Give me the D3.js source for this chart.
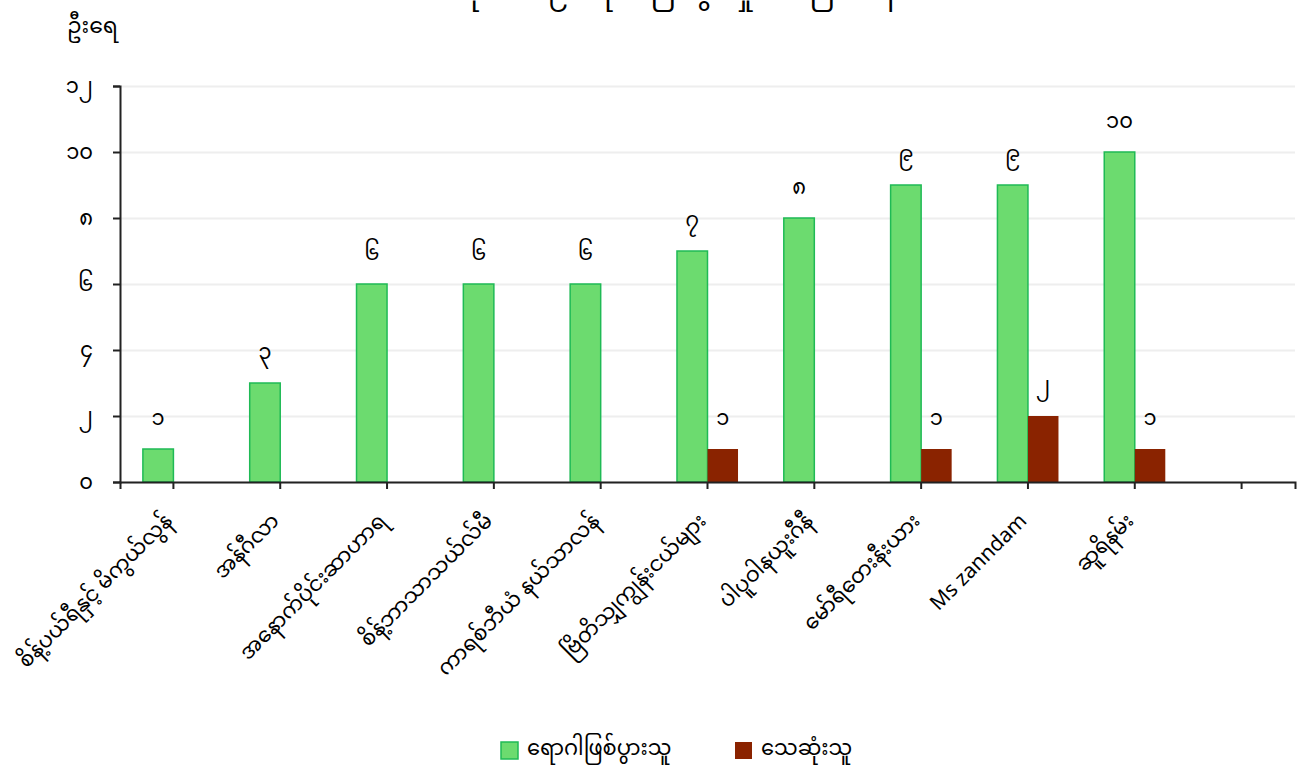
<!DOCTYPE html>
<html>
<head>
<meta charset="utf-8">
<script src="https://cdn.jsdelivr.net/npm/d3@7"></script>
<style>
body { margin: 0; background: #fff; }
svg text { font-family: "Noto Sans Myanmar", "Noto Sans", "DejaVu Sans", sans-serif; fill: #000; }
.axis path, .axis line { stroke: #222; stroke-width: 2; }
.grid line { stroke: #eee; stroke-width: 2; }
.grid path { display: none; }
</style>
</head>
<body>
<svg id="chart" width="1306" height="768"></svg>
<script>
const categories = ['စိန့်ပယ်ရီနှင့် မိကွယ်လွန်', 'အန်ဂီလာ', 'အနောက်ပိုင်းဆာဟာရ', 'စိန့်ဘာသာသယ်လ်မီ',
  'ကာရစ်ဘီယံ နယ်သာလန်', 'ဗြိတိသျှကျွန်းငယ်များ', 'ပါပူဝါနယူးဂီနီ', 'မော်ရီတေးနီးယား', 'Ms zanndam', 'ဆူရိနမ်း', ' '];
const cases = [1, 3, 6, 6, 6, 7, 8, 9, 9, 10, null];
const deaths = [0, 0, 0, 0, 0, 1, 0, 1, 2, 1, null];
const seriesNames = ['ရောဂါဖြစ်ပွားသူ', 'သေဆုံးသူ'];
const yTicks = [0, 2, 4, 6, 8, 10, 12];

const mmDigits = '၀၁၂၃၄၅၆၇၈၉';
const toMM = (n) => String(n).replace(/[0-9]/g, (d) => mmDigits[+d]);

const svg = d3.select('#chart');
const plotLeft = 120, plotRight = 1295, plotTop = 86, plotBottom = 482;

const x = d3.scaleBand()
  .range([plotLeft, plotRight])
  .domain(categories)
  .padding(0);

const x1 = d3.scaleBand()
  .domain(['cases', 'deaths'])
  .range([0, x.bandwidth()])
  .paddingInner(0)
  .paddingOuter(0.75);

const y = d3.scaleLinear()
  .range([plotBottom, plotTop])
  .domain([0, 12]);

// grid
svg.append('g')
  .attr('class', 'grid')
  .attr('transform', `translate(${plotLeft}, 0)`)
  .call(d3.axisLeft(y).tickValues(yTicks).tickSize(-(plotRight - plotLeft)).tickFormat(''));

const rows = categories.map((c, i) => ({ cat: c, cases: cases[i], deaths: deaths[i] }))
  .filter((d) => d.cases !== null);

const groups = svg.selectAll('.grp')
  .data(rows)
  .enter()
  .append('g')
  .attr('transform', (d) => `translate(${x(d.cat)}, 0)`);

groups.append('rect')
  .attr('x', x1('cases'))
  .attr('y', (d) => y(d.cases))
  .attr('width', x1.bandwidth())
  .attr('height', (d) => plotBottom - y(d.cases))
  .attr('fill', '#6cdb6f')
  .attr('stroke', '#1fba55')
  .attr('stroke-width', 1.5);

groups.filter((d) => d.deaths > 0).append('rect')
  .attr('x', x1('deaths'))
  .attr('y', (d) => y(d.deaths))
  .attr('width', x1.bandwidth())
  .attr('height', (d) => plotBottom - y(d.deaths))
  .attr('fill', '#8a2300');

groups.append('text')
  .attr('x', x1('cases') + x1.bandwidth() / 2)
  .attr('y', (d) => y(d.cases) - 24)
  .attr('text-anchor', 'middle')
  .style('font-size', '21px')
  .text((d) => toMM(d.cases));

groups.filter((d) => d.deaths > 0).append('text')
  .attr('x', x1('deaths') + x1.bandwidth() / 2)
  .attr('y', (d) => y(d.deaths) - 24)
  .attr('text-anchor', 'middle')
  .style('font-size', '21px')
  .text((d) => toMM(d.deaths));

// axes
svg.append('g')
  .attr('class', 'axis')
  .attr('transform', `translate(${plotLeft}, 0)`)
  .call(d3.axisLeft(y).tickValues(yTicks).tickSize(7).tickPadding(20).tickFormat(toMM))
  .call((g) => g.selectAll('text').style('font-size', '21px'));

svg.append('g')
  .attr('class', 'axis')
  .attr('transform', `translate(0, ${plotBottom})`)
  .call(d3.axisBottom(x).tickSize(7))
  .call((g) => g.selectAll('text')
    .style('font-size', '21px')
    .attr('text-anchor', 'end')
    .attr('dy', null)
    .attr('y', 0)
    .attr('transform', 'translate(0, 40) rotate(-45)'));

svg.append('text')
  .attr('x', 67)
  .attr('y', 33)
  .style('font-size', '22px')
  .text('ဦးရေ');

svg.append('text')
  .attr('x', 675)
  .attr('y', -1)
  .attr('text-anchor', 'middle')
  .style('font-size', '28px')
  .text('ကိုဗစ်-၁၉ ရောဂါဖြစ်ပွားမှု အခြေအနေ');

// legend
const colors = ['#6cdb6f', '#8a2300'];
const legendX = [501, 735];
seriesNames.forEach((name, i) => {
  svg.append('rect')
    .attr('x', legendX[i])
    .attr('y', 742)
    .attr('width', 17)
    .attr('height', 17)
    .attr('fill', colors[i])
    .attr('stroke', i === 0 ? '#1fba55' : 'none')
    .attr('stroke-width', 1.5);
  svg.append('text')
    .attr('x', legendX[i] + 26)
    .attr('y', 755)
    .style('font-size', '21px')
    .text(name);
});
</script>
</body>
</html>
